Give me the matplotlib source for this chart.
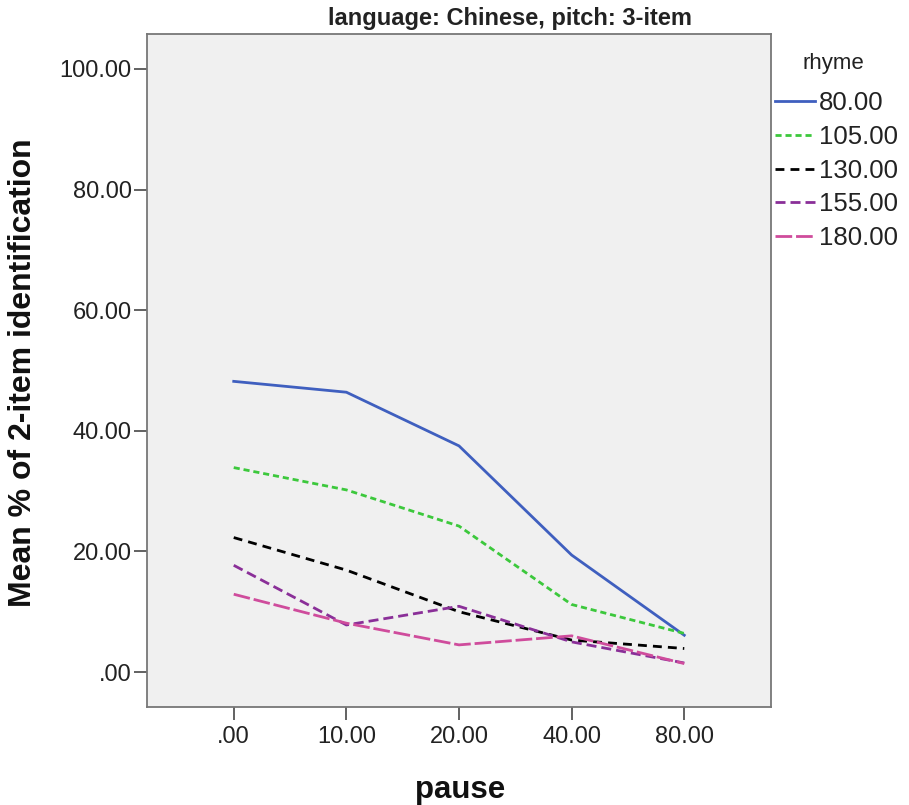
import matplotlib
matplotlib.use("Agg")
import matplotlib.pyplot as plt
from matplotlib.ticker import FuncFormatter

plt.rcParams['font.family'] = ['Liberation Sans', 'DejaVu Sans']

pause_labels = [".00", "10.00", "20.00", "40.00", "80.00"]
rhyme_labels = ["80.00", "105.00", "130.00", "155.00", "180.00"]
r80 = [48.2, 46.4, 37.5, 19.4, 6.1]
r105 = [33.9, 30.2, 24.2, 11.2, 6.4]
r130 = [22.3, 16.9, 10.0, 5.3, 3.9]
r155 = [17.7, 7.8, 10.9, 5.0, 1.5]
r180 = [12.9, 8.1, 4.5, 6.0, 1.4]
series = [r80, r105, r130, r155, r180]
colors = ["#3f5fbf", "#3cc83c", "#000000", "#8a2f98", "#cf4c9c"]
dashes = [None, (2.2, 1.4), (3.2, 2.2), (3.6, 1.8), (6.0, 1.4)]

W, H = 909, 805
fig = plt.figure(figsize=(W / 100, H / 100), dpi=100)
ax = fig.add_axes([147 / W, 98 / H, 624 / W, 673 / H])
ax.set_facecolor("#f0f0f0")

x = list(range(len(pause_labels)))
for vals, lab, c, d in zip(series, rhyme_labels, colors, dashes):
    line, = ax.plot(x, vals, color=c, lw=2.0, label=lab)
    if d is not None:
        line.set_dashes(d)

ax.set_xlim(-0.77, 4.77)
ax.set_ylim(-5.8, 105.8)
ax.set_xticks(x)
ax.set_xticklabels(pause_labels)
ax.set_yticks([0, 20, 40, 60, 80, 100])
ax.yaxis.set_major_formatter(FuncFormatter(lambda v, p: ".00" if v == 0 else f"{v:.2f}"))
ax.tick_params(axis='both', direction='out', length=9.5, width=1.3, color="#555555",
               labelsize=17, labelcolor="#222222", pad=1.5)
ax.tick_params(axis='x', pad=4)
for s in ax.spines.values():
    s.set_color("#777777")
    s.set_linewidth(1.3)

fig.text(510 / W, 1 - 19 / H, "language: Chinese, pitch: 3-item", fontsize=17,
         fontweight='bold', color="#222222", ha='center', va='center')
fig.text(23 / W, 1 - 373 / H, "Mean % of 2-item identification", fontsize=23,
         fontweight='bold', color="#111111", rotation=90, ha='center', va='center')
fig.text(460 / W, 1 - 790 / H, "pause", fontsize=22.5, fontweight='bold',
         color="#111111", ha='center', va='center')

fig.text(803 / W, 1 - 63 / H, "rhyme", fontsize=16, color="#222222",
         ha='left', va='center')
leg = ax.legend(loc='upper left', bbox_to_anchor=(775 / W, 1 - 91 / H),
                bbox_transform=fig.transFigure, frameon=False,
                fontsize=18.5, handlelength=1.55,
                handletextpad=0.15, labelspacing=0.38, borderaxespad=0,
                borderpad=0)
for t in leg.get_texts():
    t.set_color("#222222")

fig.savefig("out.png", dpi=100)
